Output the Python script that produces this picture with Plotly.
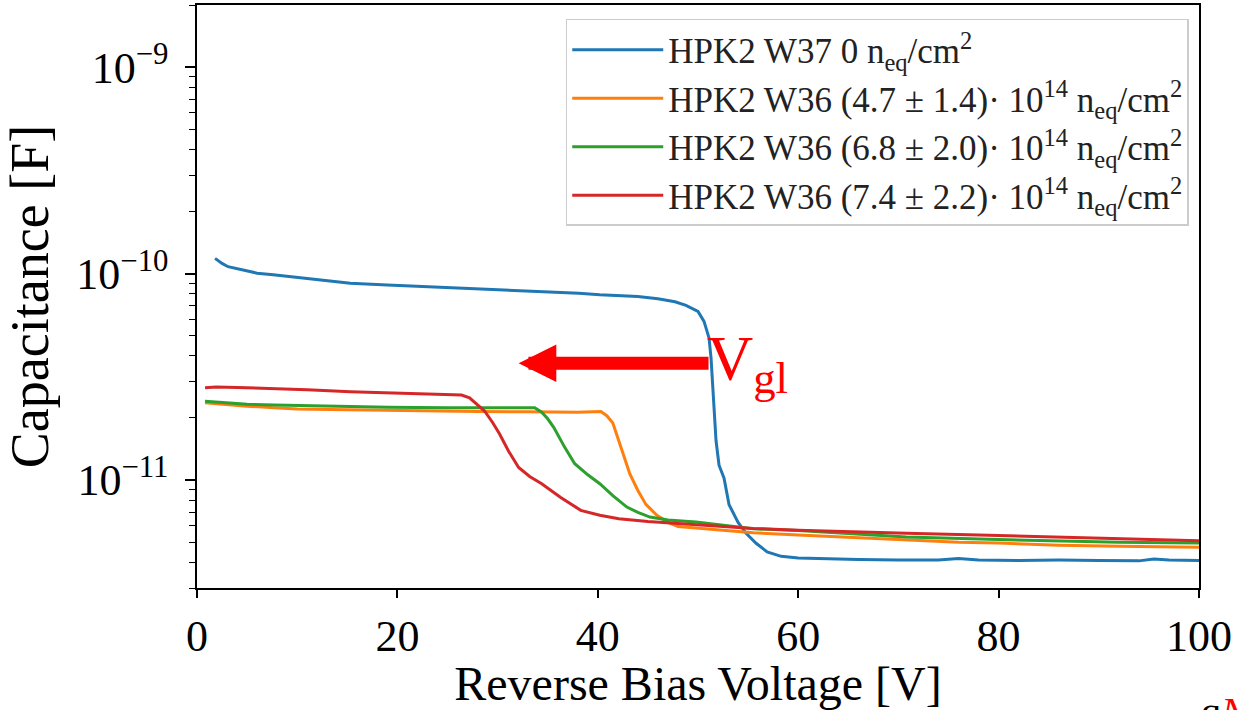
import numpy as np
import plotly.graph_objects as go

# ---------------- data ----------------
blue_v = [1.8, 2.5, 3.1, 4.5, 6, 7.6, 10, 12.5, 15.3, 19, 22.9, 26.5, 30.5, 34, 38.1, 40.2, 42, 44, 46,
          47.7, 48.8, 50.0, 50.6, 51.1, 51.3, 51.55, 51.8, 52.1, 52.6, 53.1, 54.0, 54.8, 55.8, 56.9, 58.3,
          60, 63, 66, 70, 74, 76, 78, 82, 86, 90, 94, 95.5, 97, 100]
blue_c = [1.185e-10, 1.12e-10, 1.08e-10, 1.04e-10, 1.005e-10, 9.86e-11, 9.57e-11, 9.25e-11, 8.98e-11, 8.8e-11,
          8.65e-11, 8.5e-11, 8.34e-11, 8.2e-11, 8.03e-11, 7.9e-11, 7.85e-11, 7.75e-11, 7.55e-11,
          7.3e-11, 7.02e-11, 6.56e-11, 5.87e-11, 4.88e-11, 3.91e-11, 2.55e-11, 1.55e-11, 1.18e-11, 1.02e-11,
          7.6e-12, 6.24e-12, 5.52e-12, 4.94e-12, 4.49e-12, 4.27e-12,
          4.19e-12, 4.14e-12, 4.12e-12, 4.1e-12, 4.1e-12, 4.17e-12, 4.1e-12, 4.08e-12, 4.1e-12, 4.08e-12,
          4.06e-12, 4.14e-12, 4.1e-12, 4.08e-12]

orange_v = [0.8, 3, 5, 7.7, 10, 15, 20, 23, 28, 33, 38, 40.3, 40.9, 41.5, 42.1, 43.2, 44.0, 44.8, 45.9,
            47.0, 48, 50, 55.5, 60, 65, 70.8, 76, 80, 86, 92, 100]
orange_c = [2.37e-11, 2.32e-11, 2.28e-11, 2.24e-11, 2.21e-11, 2.19e-11, 2.17e-11, 2.16e-11, 2.15e-11,
            2.14e-11, 2.13e-11, 2.15e-11, 2.05e-11, 1.89e-11, 1.55e-11, 1.07e-11, 8.9e-12, 7.62e-12,
            6.75e-12, 6.24e-12, 5.95e-12, 5.85e-12, 5.56e-12, 5.42e-12, 5.28e-12, 5.11e-12, 5.0e-12,
            4.95e-12, 4.83e-12, 4.78e-12, 4.73e-12]

green_v = [0.8, 3, 5, 7.7, 12, 19.1, 25, 30, 33.7, 34.4, 35.0, 35.6, 36.7, 37.7, 39.0, 40.2, 41.5, 42.9,
           44.0, 45.2, 47.0, 49.8, 55.5, 60, 65, 70.8, 80, 86, 92, 100]
green_c = [2.41e-11, 2.37e-11, 2.33e-11, 2.31e-11, 2.28e-11, 2.25e-11, 2.24e-11, 2.24e-11, 2.24e-11,
           2.13e-11, 1.98e-11, 1.8e-11, 1.44e-11, 1.2e-11, 1.06e-11, 9.6e-12, 8.4e-12, 7.4e-12,
           6.97e-12, 6.62e-12, 6.41e-12, 6.27e-12, 5.81e-12, 5.7e-12, 5.52e-12, 5.3e-12, 5.15e-12,
           5.06e-12, 5.0e-12, 4.95e-12]

red_v = [0.8, 1.9, 4, 7.7, 11, 15.3, 19, 23, 26.4, 27.2, 27.8, 28.7, 29.5, 30.2, 31.1, 32.1, 33.2, 34.4,
         36.3, 38.3, 40.2, 42.1, 45, 48, 55.5, 60, 65, 70.8, 78, 86, 92, 100]
red_c = [2.8e-11, 2.82e-11, 2.81e-11, 2.78e-11, 2.74e-11, 2.68e-11, 2.65e-11, 2.6e-11, 2.58e-11,
         2.5e-11, 2.36e-11, 2.16e-11, 1.9e-11, 1.67e-11, 1.38e-11, 1.15e-11, 1.04e-11, 9.6e-12,
         8.24e-12, 7.13e-12, 6.75e-12, 6.5e-12, 6.3e-12, 6.15e-12, 5.83e-12, 5.72e-12, 5.62e-12,
         5.52e-12, 5.42e-12, 5.3e-12, 5.2e-12, 5.08e-12]

series_names = [
    "HPK2 W37 0 n<sub>eq</sub>/cm<sup>2</sup>",
    "HPK2 W36 (4.7 ± 1.4)· 10<sup>14</sup> n<sub>eq</sub>/cm<sup>2</sup>",
    "HPK2 W36 (6.8 ± 2.0)· 10<sup>14</sup> n<sub>eq</sub>/cm<sup>2</sup>",
    "HPK2 W36 (7.4 ± 2.2)· 10<sup>14</sup> n<sub>eq</sub>/cm<sup>2</sup>",
]
series_colors = ["#1f77b4", "#ff7f0e", "#2ca02c", "#d62728"]

x_ticks = [0, 20, 40, 60, 80, 100]
y_tickvals = [1e-11, 1e-10, 1e-9]
y_ticktext = ["10<sup>−11</sup>", "10<sup>−10</sup>", "10<sup>−9</sup>"]
y_minor = [m * 10.0 ** e for e in (-12, -11, -10, -9) for m in range(2, 10)]

x_range = [0, 100]
y_range = [3e-12, 2e-9]

arrow_from_v = 51.2
arrow_to_v = 32.1
arrow_c = 3.68e-11

FONT = "Liberation Serif"

fig = go.Figure()
for v, c, name, col in zip([blue_v, orange_v, green_v, red_v], [blue_c, orange_c, green_c, red_c],
                           series_names, series_colors):
    fig.add_trace(go.Scatter(x=v, y=c, mode="lines", name=name,
                             line=dict(color=col, width=3)))

fig.update_layout(
    width=1239, height=710,
    margin=dict(l=197, r=40, t=3, b=122),
    paper_bgcolor="white", plot_bgcolor="white",
    font=dict(family=FONT, color="black"),
    showlegend=True,
    legend=dict(x=0.368, y=0.976, xanchor="left", yanchor="top",
                bgcolor="rgba(255,255,255,0.9)", bordercolor="#cccccc", borderwidth=1.5,
                font=dict(family=FONT, size=35, color="#222"),
                itemwidth=91, tracegroupgap=0),
)

fig.update_xaxes(
    range=x_range, tickvals=x_ticks, ticks="outside", ticklen=8, tickwidth=1.5, tickcolor="black",
    showline=True, linecolor="black", linewidth=1.5, mirror=True, showgrid=False, zeroline=False,
    tickfont=dict(family=FONT, size=44),
    title=dict(text="Reverse Bias Voltage [V]", font=dict(family=FONT, size=48), standoff=12),
)
fig.update_yaxes(
    type="log", range=[np.log10(y_range[0]), np.log10(y_range[1])],
    tickmode="array", tickvals=y_tickvals, ticktext=y_ticktext,
    ticks="outside", ticklen=10, tickwidth=1.5, tickcolor="black", ticklabelstandoff=8,
    minor=dict(tickmode="array", tickvals=y_minor, ticks="outside", ticklen=6, tickwidth=1.2,
               tickcolor="black", showgrid=False),
    showline=True, linecolor="black", linewidth=1.5, mirror=True, showgrid=False, zeroline=False,
    tickfont=dict(family=FONT, size=44),
    title=dict(text="Capacitance [F]", font=dict(family=FONT, size=54), standoff=22),
)

# V_gl arrow and label
fig.add_annotation(x=arrow_to_v, y=np.log10(arrow_c), ax=arrow_from_v, ay=np.log10(arrow_c),
                   xref="x", yref="y", axref="x", ayref="y", text="", showarrow=True,
                   arrowhead=2, arrowwidth=13, arrowsize=0.58, arrowcolor="red",
                   standoff=0, startstandoff=0, font=dict(size=1))
fig.add_annotation(x=arrow_from_v - 0.55, y=np.log10(arrow_c), xref="x", yref="y",
                   text="V<sub>gl</sub>", showarrow=False, xanchor="left", yanchor="middle",
                   font=dict(family=FONT, size=64, color="red"))

# cut-off text at the bottom-right edge
fig.add_annotation(x=1.0, y=-0.169, xref="paper", yref="paper", xanchor="left", yanchor="top",
                   text="q<i><span style='color:red'>N</span></i>", showarrow=False,
                   font=dict(family=FONT, size=40, color="black"))

fig.write_html("out.html")
